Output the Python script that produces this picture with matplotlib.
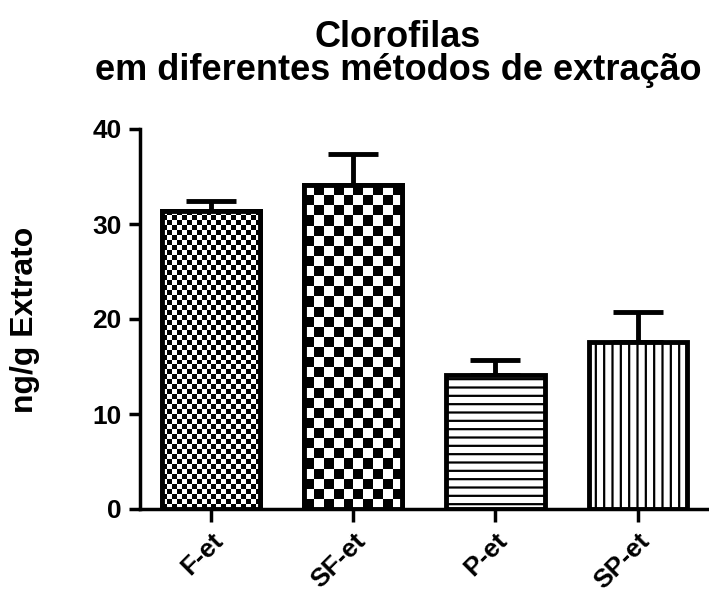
import numpy as np
import matplotlib.pyplot as plt
import matplotlib.transforms as mtransforms

# dados
grupos = ["F-et", "SF-et", "P-et", "SP-et"]
medias = [31.4, 34.1, 14.1, 17.6]
erros = [1.0, 3.3, 1.6, 3.1]

plt.rcParams["font.family"] = ["Liberation Sans", "DejaVu Sans"]
plt.rcParams["font.weight"] = "bold"
plt.rcParams["hatch.linewidth"] = 1.6

fig = plt.figure(figsize=(7.09, 5.95), dpi=100)
ax = fig.add_axes([139.5/709, 1-509/595, 569.5/709, 380/595])

x = np.arange(len(grupos))
largura = 0.69

ax.set_xlim(-0.5, 3.5)
ax.set_ylim(0, 40)

# preenchimentos: xadrez para os dois primeiros, listras para os outros
hachuras = [None, None, "--", "||"]
celulas = [5, 10, None, None]

barras = ax.bar(x, medias, width=largura, facecolor="white", edgecolor="black",
                linewidth=3.5, zorder=2)

for b, h in zip(barras, hachuras):
    if h:
        b.set_hatch(h)

for b, c in zip(barras, celulas):
    if c is None:
        continue
    x0, y0 = b.get_x(), 0
    x1, y1 = b.get_x() + b.get_width(), b.get_height()
    p0 = ax.transData.transform((x0, y0))
    p1 = ax.transData.transform((x1, y1))
    nx = max(1, int(round(abs(p1[0] - p0[0]) / c)))
    ny = max(1, int(round(abs(p1[1] - p0[1]) / c)))
    xadrez = (np.add.outer(np.arange(ny), np.arange(nx)) % 2).astype(float)
    im = ax.imshow(xadrez, cmap="gray", extent=(x0, x1, y0, y1), aspect="auto",
                   interpolation="nearest", zorder=2.2, origin="lower")
    im.set_clip_path(b)
    ax.bar(b.get_x() + b.get_width()/2, b.get_height(), width=largura,
           facecolor="none", edgecolor="black", linewidth=3.5, zorder=3)

ax.errorbar(x, medias, yerr=[np.zeros(len(erros)), erros], fmt="none",
            ecolor="black", elinewidth=3.5, capsize=18, capthick=3.5, zorder=1)

ax.set_xticks(x)
ax.set_xticklabels(grupos, rotation=45, ha="right", rotation_mode="anchor",
                   fontsize=19, fontweight="bold")
desloc = mtransforms.ScaledTranslation(-4/100, 0, fig.dpi_scale_trans)
for t in ax.get_xticklabels():
    t.set_transform(t.get_transform() + desloc)
ax.set_yticks([0, 10, 20, 30, 40])
ax.tick_params(axis="y", labelsize=19, width=2.5, length=8, pad=5)
ax.tick_params(axis="x", width=2.5, length=9, pad=5)
for t in ax.get_yticklabels():
    t.set_fontweight("bold")

ax.spines["top"].set_visible(False)
ax.spines["right"].set_visible(False)
ax.spines["left"].set_linewidth(2.5)
ax.spines["bottom"].set_linewidth(2.5)

fig.text(25/709, 1-320/595, "ng/g Extrato", rotation=90, ha="center",
         va="center", fontsize=23, fontweight="bold")

fig.text(398/709, 1-47/595, "Clorofilas", ha="center", va="baseline",
         fontsize=26, fontweight="bold")
fig.text(398/709, 1-80/595, "em diferentes métodos de extração", ha="center",
         va="baseline", fontsize=26, fontweight="bold")

fig.savefig("out.png", dpi=100)
